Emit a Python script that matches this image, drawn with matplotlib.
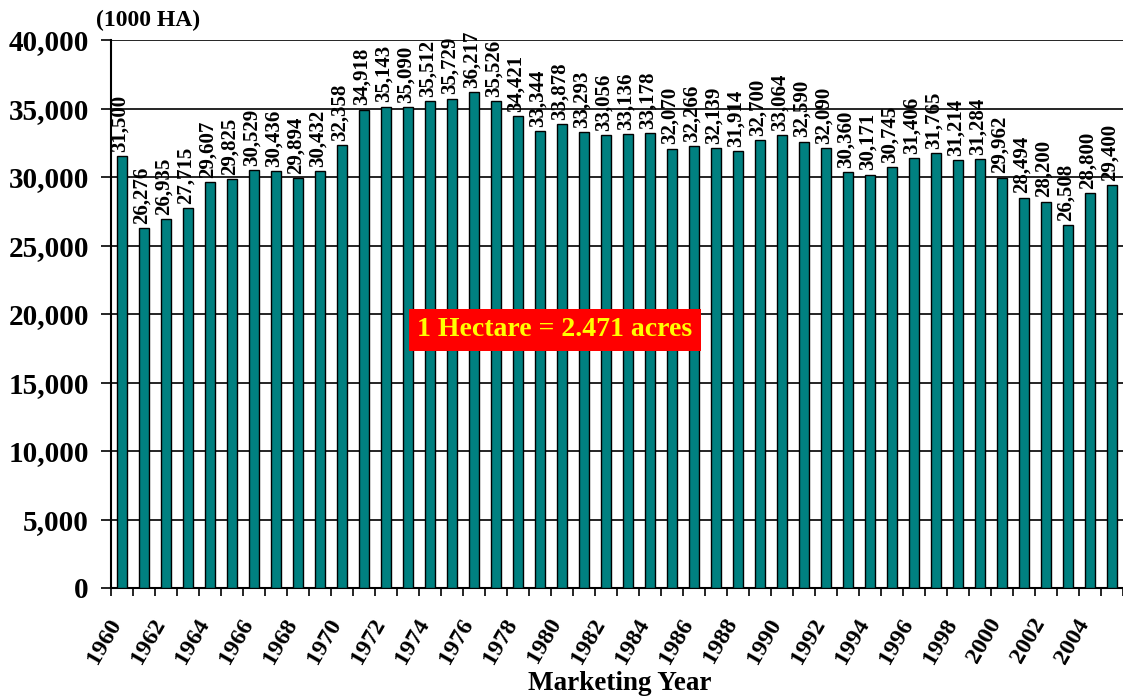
import matplotlib
matplotlib.use("Agg")
import matplotlib.pyplot as plt
import matplotlib.transforms as mtransforms
import numpy as np

years = list(range(1960, 2006))
area = [31500, 26276, 26935, 27715, 29607, 29825, 30529, 30436, 29894, 30432,
        32358, 34918, 35143, 35090, 35512, 35729, 36217, 35526, 34421, 33344,
        33878, 33293, 33056, 33136, 33178, 32070, 32266, 32139, 31914, 32700,
        33064, 32590, 32090, 30360, 30171, 30745, 31406, 31765, 31214, 31284,
        29962, 28494, 28200, 26508, 28800, 29400]
yticks = [0, 5000, 10000, 15000, 20000, 25000, 30000, 35000, 40000]

plt.rcParams['font.family'] = ['Liberation Serif', 'DejaVu Serif']
plt.rcParams['font.weight'] = 'bold'

fig = plt.figure(figsize=(11.23, 6.96), dpi=100)
ax = fig.add_axes([111/1123, 108/696, 1012/1123, 548/696])

x = np.arange(len(years))
ax.bar(x, area, width=0.45, color='#008080', edgecolor='black', linewidth=1.0, zorder=3)

for xi, v in zip(x, area):
    ax.annotate(f"{v:,}", (xi, v), xytext=(-2, 3), textcoords='offset points',
                rotation=90, ha='center', va='bottom', fontsize=15,
                fontweight='bold', zorder=4, annotation_clip=False)

ax.set_xlim(-0.5, len(years) - 0.5)
ax.set_ylim(0, 40000)
ax.set_yticks(yticks)
ax.set_yticklabels([f"{t:,}" for t in yticks], fontsize=21, fontweight='bold')
ax.yaxis.grid(True, color='black', linewidth=1.2, zorder=0)
ax.set_axisbelow(True)
ax.tick_params(axis='y', length=7, width=1.2, direction='out', pad=9)

ax.set_xticks(x[::2])
ax.set_xticklabels([str(y) for y in years[::2]], rotation=60, ha='right',
                   rotation_mode='anchor', fontsize=17.5, fontweight='bold')
ax.tick_params(axis='x', which='major', length=0, pad=12)
offset = mtransforms.ScaledTranslation(-0.15, -0.10, fig.dpi_scale_trans)
for lab in ax.get_xticklabels():
    lab.set_transform(lab.get_transform() + offset)
ax.set_xticks(np.arange(-0.5, len(years), 1.0), minor=True)
ax.tick_params(axis='x', which='minor', length=6, width=1.2, direction='out')

for s in ['top', 'right']:
    ax.spines[s].set_visible(False)
ax.spines['left'].set_linewidth(1.5)
ax.spines['bottom'].set_linewidth(1.5)

ax.set_xlabel('Marketing Year', fontsize=19.5, fontweight='bold')
ax.xaxis.set_label_coords(0.503, -0.152)

fig.text(148/1123, 1 - 20/696, '(1000 HA)', ha='center', va='center',
         fontsize=17, fontweight='bold')

ax.text((555 - 111) / 1012, 1 - (330 - 40) / 548, '1 Hectare = 2.471 acres',
        transform=ax.transAxes, ha='center', va='center', fontsize=20,
        fontweight='bold', color='#FFFF00', zorder=6,
        bbox=dict(boxstyle='square,pad=0.3', facecolor='#FF0000', edgecolor='none'))

fig.savefig('out.png', dpi=100)
